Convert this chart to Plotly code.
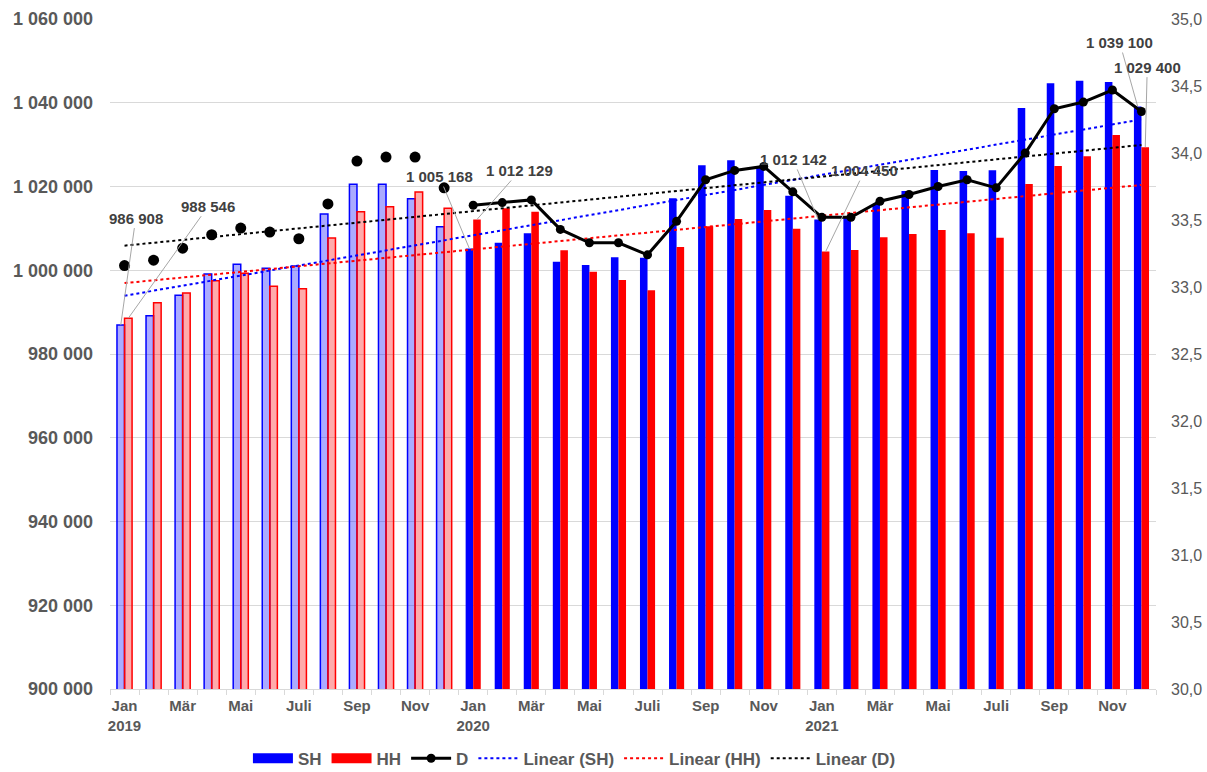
import numpy as np
import plotly.graph_objects as go

months = ["Jan", "Feb", "Mär", "Apr", "Mai", "Jun", "Juli", "Aug", "Sep", "Okt", "Nov", "Dez"]
years = ["2019", "2020", "2021"]

sh = [986908, 989150, 994010, 999100, 1001420, 1000460, 1001010, 1013430, 1020520, 1020520, 1017100, 1010400,
      1005168, 1006580, 1008820, 1002040, 1001250, 1003080, 1003000, 1017170, 1025060, 1026250, 1024740, 1017810,
      1012142, 1012550, 1015800, 1018930, 1023940, 1023700, 1023870, 1038750, 1044640, 1045270, 1044960, 1039100]
hh = [988546, 992250, 994570, 997510, 999260, 996160, 995600, 1007700, 1013990, 1015180, 1018690, 1014800,
      1012129, 1014790, 1013980, 1004760, 999660, 997670, 995200, 1005550, 1010490, 1012240, 1014390, 1009930,
      1004450, 1004840, 1007870, 1008660, 1009610, 1008820, 1007770, 1020600, 1024900, 1027200, 1032300, 1029400]
d = [33.16, 33.20, 33.29, 33.39, 33.44, 33.41, 33.36, 33.62, 33.94, 33.97, 33.97, 33.74,
     33.61, 33.63, 33.65, 33.43, 33.33, 33.33, 33.24, 33.49, 33.80, 33.87, 33.90, 33.71,
     33.52, 33.52, 33.64, 33.69, 33.75, 33.80, 33.74, 34.00, 34.33, 34.38, 34.47, 34.31]

# labelled points (indices)
labels_sh = [0, 12, 24, 35]
labels_hh = [0, 12, 24, 35]

n = len(sh)
x = list(range(n))
tickvals = list(range(0, n, 2))
ticktext = []
for i in tickvals:
    m = months[i % 12]
    if i % 12 == 0:
        m += "<br>" + years[i // 12]
    ticktext.append(m)

FONT = "Arial, 'Liberation Sans', sans-serif"
GRAY = "#595959"

fig = go.Figure()
split = 12
# 2019 bars (light)
fig.add_trace(go.Bar(x=x[:split], y=sh[:split], offsetgroup="SH", name="SH", showlegend=False,
                     marker=dict(color="rgba(0,0,255,0.33)", line=dict(color="#0000ff", width=1.5))))
fig.add_trace(go.Bar(x=x[:split], y=hh[:split], offsetgroup="HH", name="HH", showlegend=False,
                     marker=dict(color="rgba(255,0,0,0.33)", line=dict(color="#ff0000", width=1.5))))
# 2020-2021 bars (solid)
fig.add_trace(go.Bar(x=x[split:], y=sh[split:], offsetgroup="SH", name="SH", showlegend=False,
                     marker=dict(color="#0000ff", line=dict(width=0))))
fig.add_trace(go.Bar(x=x[split:], y=hh[split:], offsetgroup="HH", name="HH", showlegend=False,
                     marker=dict(color="#ff0000", line=dict(width=0))))

# D series
fig.add_trace(go.Scatter(x=x[:split], y=d[:split], yaxis="y2", mode="markers", showlegend=False,
                         marker=dict(color="black", size=11)))
fig.add_trace(go.Scatter(x=x[split:], y=d[split:], yaxis="y2", mode="lines+markers", showlegend=False,
                         line=dict(color="black", width=3), marker=dict(color="black", size=9)))

# Trend lines
xa = np.array(x, dtype=float)
for vals, col, ax2 in [(sh, "#0000ff", "y"), (hh, "#ff0000", "y"), (d, "black", "y2")]:
    k, b = np.polyfit(xa, np.array(vals, dtype=float), 1)
    fig.add_trace(go.Scatter(x=[xa[0], xa[-1]], y=[k * xa[0] + b, k * xa[-1] + b], yaxis=ax2,
                             mode="lines", showlegend=False, line=dict(color=col, width=2, dash="dot")))

# Legend entries
leg = [("SH", dict(color="#0000ff", width=11), "lines"),
       ("HH", dict(color="#ff0000", width=11), "lines"),
       ("D", dict(color="black", width=3), "lines+markers"),
       ("Linear (SH)", dict(color="#0000ff", width=2, dash="dot"), "lines"),
       ("Linear (HH)", dict(color="#ff0000", width=2, dash="dot"), "lines"),
       ("Linear (D)", dict(color="black", width=2, dash="dot"), "lines")]
for name, line, mode in leg:
    fig.add_trace(go.Scatter(x=[None], y=[None], name=name, mode=mode, line=line,
                             marker=dict(color="black", size=9)))

# annotations
sh_off = {0: (15, -107), 12: (-30, -72), 24: (-25, -60), 35: (-18, -64)}
hh_off = {0: (80, -112), 12: (43, -49), 24: (39, -81), 35: (2, -80)}
bw = 0.13
for i in labels_sh:
    fig.add_annotation(x=i - bw, y=sh[i], text=f"{sh[i]:,}".replace(",", " "), showarrow=True,
                       arrowhead=0, arrowwidth=1, arrowcolor="#a6a6a6", ax=sh_off[i][0], ay=sh_off[i][1],
                       standoff=0, font=dict(family=FONT, size=15, color="#404040", weight="bold"))
for i in labels_hh:
    fig.add_annotation(x=i + bw, y=hh[i], text=f"{hh[i]:,}".replace(",", " "), showarrow=True,
                       arrowhead=0, arrowwidth=1, arrowcolor="#a6a6a6", ax=hh_off[i][0], ay=hh_off[i][1],
                       standoff=0, font=dict(family=FONT, size=15, color="#404040", weight="bold"))

fig.update_layout(
    width=1207, height=772,
    margin=dict(l=110, r=51, t=19, b=83, autoexpand=False),
    plot_bgcolor="white", paper_bgcolor="white",
    separators=", ",
    barmode="group", bargap=0.48, bargroupgap=0,
    font=dict(family=FONT, color=GRAY),
    xaxis=dict(range=[-0.5, n - 0.5], tickvals=tickvals, ticktext=ticktext, ticks="",
               showgrid=False, showline=True, linecolor="#d9d9d9", linewidth=1, automargin=False,
               tickfont=dict(size=15, color=GRAY, weight="bold"), ticklabelstandoff=3,
               minor=dict(tickvals=[i - 0.5 for i in range(n + 1)], ticks="outside", ticklen=5,
                          tickcolor="#d9d9d9", showgrid=False)),
    yaxis=dict(range=[900000, 1060000], dtick=20000, tickformat=",d", showgrid=True, gridcolor="#d9d9d9",
               zeroline=False, showline=False, ticks="", automargin=False,
               tickfont=dict(size=18, color=GRAY, weight="bold"), ticklabelstandoff=16),
    yaxis2=dict(range=[30, 35], dtick=0.5, tickformat=".1f", overlaying="y", side="right", showgrid=False,
                zeroline=False, showline=False, ticks="", automargin=False, ticklabelstandoff=14,
                tickfont=dict(size=16, color=GRAY)),
    legend=dict(orientation="h", x=0.444, xanchor="center", y=-0.104, yanchor="middle",
                font=dict(size=17, color=GRAY, weight="bold"), itemwidth=40, tracegroupgap=0),
)

fig.write_html("out.html", config={"displayModeBar": False},
               post_script="document.body.style.margin='0px';")
